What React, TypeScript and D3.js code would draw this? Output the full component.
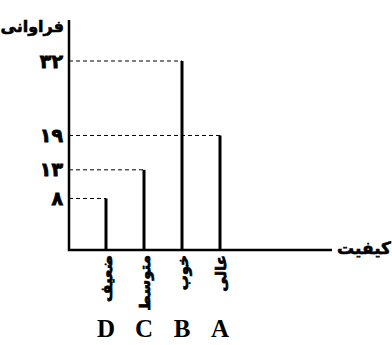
import React, { useEffect, useRef } from "react";
import * as d3 from "d3";

// data
const letters = ["D", "C", "B", "A"];
const categories = ["ضعیف", "متوسط", "خوب", "عالی"];
const values = [8, 13, 32, 19];
const tickLabels = ["۸", "۱۳", "۱۹", "۳۲"];
const tickValues = [8, 13, 19, 32];

const App = () => {
  const ref = useRef<SVGSVGElement>(null);

  useEffect(() => {
    const width = 392;
    const height = 345;
    const margin = { top: 20, left: 69, bottom: 95, right: 58 };
    const faFont = "'DejaVu Sans', sans-serif";

    const svg = d3.select(ref.current);
    svg.selectAll("*").remove();

    const x = d3
      .scalePoint<string>()
      .domain(letters)
      .range([106, 220]);

    // axis sits a touch below zero in the original drawing
    const y = d3
      .scaleLinear()
      .domain([-1, 32])
      .range([height - margin.bottom, 61]);

    const base = y(-1);

    // dashed guide lines
    svg
      .append("g")
      .selectAll("line")
      .data(values)
      .enter()
      .append("line")
      .attr("x1", margin.left)
      .attr("x2", (d, i) => x(letters[i])!)
      .attr("y1", d => y(d))
      .attr("y2", d => y(d))
      .attr("stroke", "#000")
      .attr("stroke-width", 1)
      .attr("stroke-dasharray", "4,3");

    // bars as thick lines
    svg
      .append("g")
      .selectAll("line")
      .data(values)
      .enter()
      .append("line")
      .attr("x1", (d, i) => x(letters[i])!)
      .attr("x2", (d, i) => x(letters[i])!)
      .attr("y1", base)
      .attr("y2", d => y(d))
      .attr("stroke", "#000")
      .attr("stroke-width", 3);

    // axes
    svg
      .append("path")
      .attr("d", `M${margin.left},${margin.top}V${base}H${width - margin.right - 2}`)
      .attr("fill", "none")
      .attr("stroke", "#000")
      .attr("stroke-width", 2.5);

    // persian text is drawn a little heavier with a thin stroke
    const heavy = (sel: any, w: number) =>
      sel
        .attr("font-family", faFont)
        .attr("font-weight", "bold")
        .attr("stroke", "#000")
        .attr("stroke-width", w)
        .attr("paint-order", "stroke");

    // y tick labels
    svg
      .append("g")
      .selectAll("text")
      .data(tickValues)
      .enter()
      .append("text")
      .attr("x", 63)
      .attr("y", d => y(d))
      .attr("dy", "0.35em")
      .attr("text-anchor", "end")
      .attr("font-size", 19)
      .call(heavy, 0.8)
      .text((d, i) => tickLabels[i]);

    // axis titles
    svg
      .append("text")
      .attr("x", 64)
      .attr("y", 32)
      .attr("text-anchor", "end")
      .attr("font-size", 16)
      .call(heavy, 0.6)
      .text("فراوانی");

    svg
      .append("text")
      .attr("x", width - 1)
      .attr("y", base - 1)
      .attr("dy", "0.3em")
      .attr("text-anchor", "end")
      .attr("font-size", 17)
      .call(heavy, 0.6)
      .text("کیفیت");

    // rotated category names
    svg
      .append("g")
      .selectAll("text")
      .data(categories)
      .enter()
      .append("text")
      .attr("transform", (d, i) => `translate(${x(letters[i])! + 6},${base + 5}) rotate(-90)`)
      .attr("text-anchor", "end")
      .attr("font-size", 15)
      .call(heavy, 0.7)
      .text(d => d);

    // letters under the bars
    svg
      .append("g")
      .selectAll("text")
      .data(letters)
      .enter()
      .append("text")
      .attr("x", d => x(d)!)
      .attr("y", 337)
      .attr("text-anchor", "middle")
      .attr("font-family", "'Liberation Serif', serif")
      .attr("font-weight", "bold")
      .attr("font-size", 25)
      .text(d => d);
  }, []);

  return (
    <svg
      ref={ref}
      width={392}
      height={345}
      style={{ position: "absolute", left: 0, top: 0, background: "#fff" }}
    ></svg>
  );
};

export default App;
